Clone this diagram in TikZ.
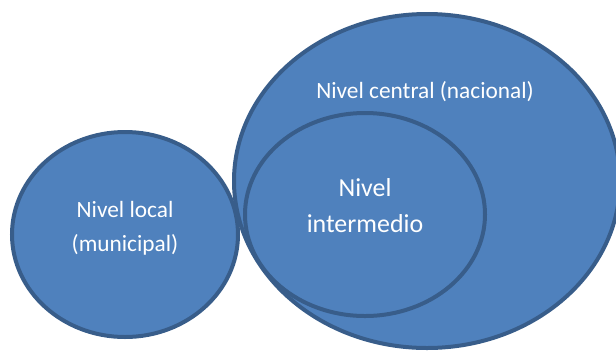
\documentclass[tikz,border=0pt]{standalone}
\usepackage{fontspec}
\setmainfont{Carlito}
\definecolor{blobfill}{HTML}{4F81BD}
\definecolor{blobline}{HTML}{385D8A}
\tikzset{
  blob/.style={draw=blobline, fill=blobfill, line width=4bp},
  lbl/.style={text=white, inner sep=0pt, anchor=base},
  smalltxt/.style={font=\fontsize{23.4}{28}\selectfont},
  bigtxt/.style={font=\fontsize{26}{31}\selectfont}
}
\begin{document}
\begin{tikzpicture}[x=1bp,y=-1bp]
  \useasboundingbox (0,0) rectangle (616,351);
  \begin{scope}
    \clip (0,0) rectangle (616,351);
    \path[blob] (427,181) ellipse [x radius=193, y radius=167];
    \path[blob] (365,214.5) ellipse [x radius=120, y radius=101.5];
    \path[blob] (125,234.5) ellipse [x radius=113, y radius=102.5];
  \end{scope}
  \node[lbl, smalltxt] (central) at (425,98.3) {Nivel central (nacional)};
  \node[lbl, bigtxt] (inter1) at (365,196) {Nivel};
  \node[lbl, bigtxt] (inter2) at (365,232) {intermedio};
  \node[lbl, smalltxt] (local1) at (125,217.5) {Nivel local};
  \node[lbl, smalltxt] (local2) at (125,251.5) {(municipal)};
\end{tikzpicture}
\end{document}
